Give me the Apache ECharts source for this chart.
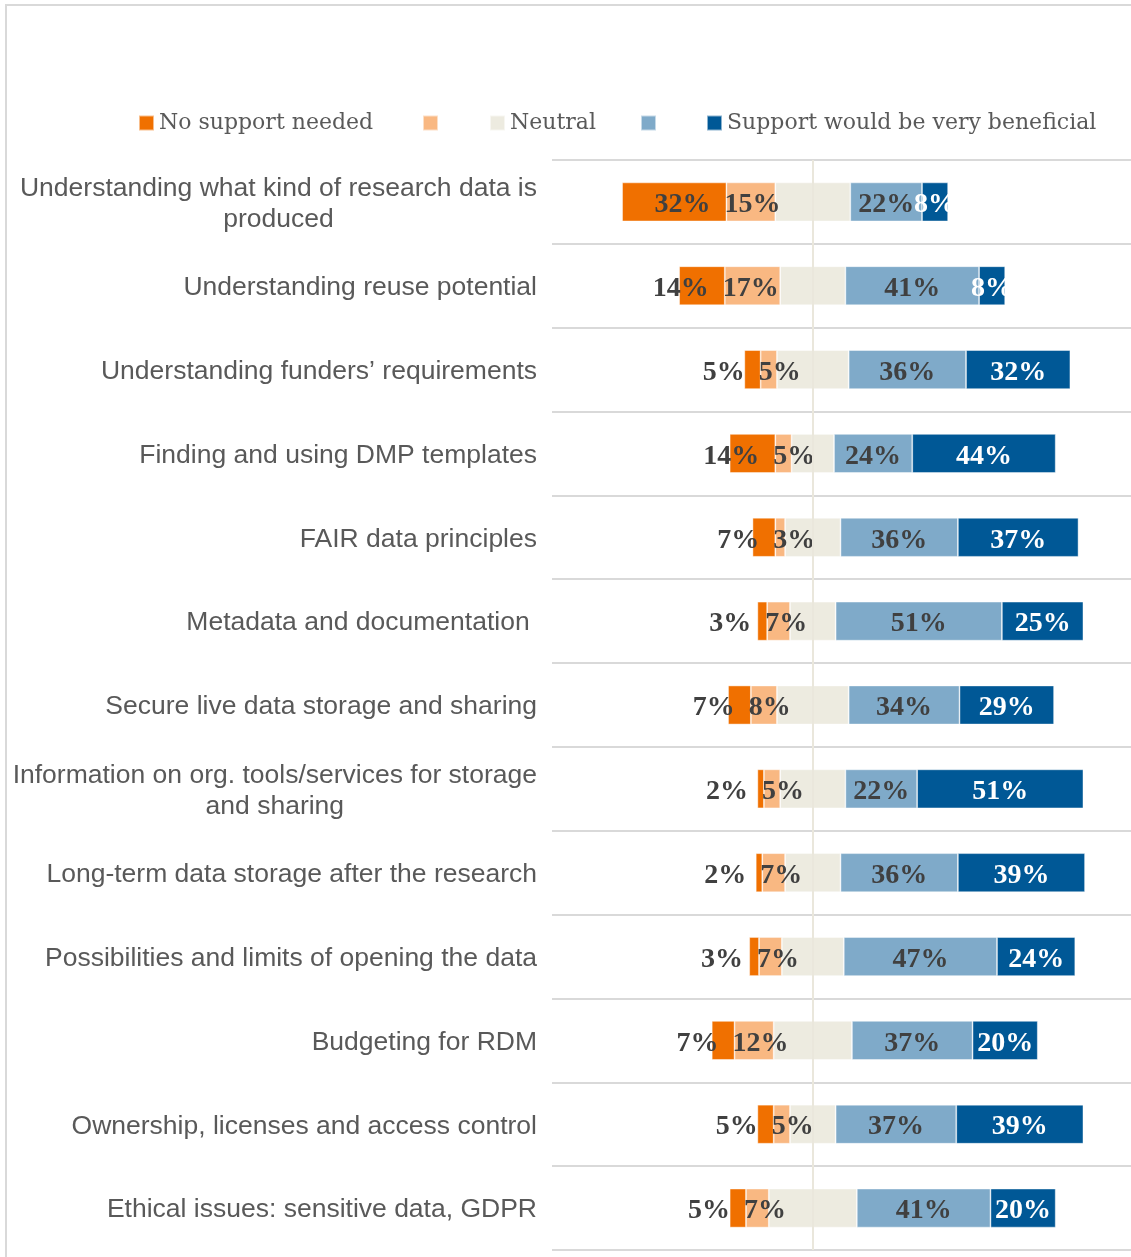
<!DOCTYPE html>
<html>
<head>
<meta charset="utf-8">
<script src="https://cdn.jsdelivr.net/npm/echarts@6/dist/echarts.min.js"></script>
<style>
  html, body { margin: 0; padding: 0; background: #ffffff; }
  #chart { width: 1131px; height: 1257px; }
</style>
</head>
<body>
<div id="chart"></div>
<script>
// Topics asked about in the survey (top to bottom)
const categories = [
  'Understanding what kind of research data is\nproduced',
  'Understanding reuse potential',
  'Understanding funders\u2019 requirements',
  'Finding and using DMP templates',
  'FAIR data principles',
  'Metadata and documentation ',
  'Secure live data storage and sharing',
  'Information on org. tools/services for storage\nand sharing',
  'Long-term data storage after the research',
  'Possibilities and limits of opening the data',
  'Budgeting for RDM',
  'Ownership, licenses and access control',
  'Ethical issues: sensitive data, GDPR'
];

// Share of answers (%) on the five-point scale
const noSupport      = [32, 14, 5, 14, 7, 3, 7, 2, 2, 3, 7, 5, 5];
const littleSupport  = [15, 17, 5, 5, 3, 7, 8, 5, 7, 7, 12, 5, 7];
const neutral        = [23, 20, 22, 13, 17, 14, 22, 20, 17, 19, 24, 14, 27];
const someSupport    = [22, 41, 36, 24, 36, 51, 34, 22, 36, 47, 37, 37, 41];
const veryBeneficial = [8, 8, 32, 44, 37, 25, 29, 51, 39, 24, 20, 39, 20];

// Legend entries (the two intermediate answers carry no caption)
const legendNames = ['No support needed', ' ', 'Neutral', '  ', 'Support would be very beneficial'];
const legendLeft = [138, 422, 489, 640, 706];

const COLORS = {
  no: '#F07000',
  little: '#F9B882',
  neutral: '#EDEBE0',
  some: '#7FAAC9',
  very: '#005896'
};

const labelFont = {
  fontFamily: 'Liberation Serif',
  fontWeight: 'bold',
  fontSize: 28,
  offset: [0, 3]
};
const pct = p => Math.abs(p.value) + '%';

const barBase = {
  type: 'bar',
  stack: 'likert',
  barWidth: 39,
  emphasis: { disabled: true },
  itemStyle: { borderColor: 'rgba(255,255,255,0.55)', borderWidth: 0.8 }
};

const chart = echarts.init(document.getElementById('chart'), null, { renderer: 'canvas' });

chart.setOption({
  animation: false,
  backgroundColor: '#ffffff',
  graphic: [{
    type: 'rect',
    silent: true,
    shape: { x: 6, y: 5, width: 1300, height: 1400 },
    style: { fill: 'none', stroke: '#d9d9d9', lineWidth: 2 }
  }],
  // one legend block per entry so each swatch sits at its own place
  legend: legendNames.map((name, i) => ({
    data: [name],
    left: legendLeft[i],
    top: 112,
    padding: 0,
    itemWidth: 15,
    itemHeight: 15,
    icon: 'rect',
    selectedMode: false,
    textStyle: { fontFamily: 'DejaVu Serif', fontSize: 22, color: '#595959' }
  })),
  grid: { left: 552, top: 160, right: 0, height: 1090 },
  xAxis: {
    type: 'value',
    min: -80,
    max: 97.6,
    show: false
  },
  yAxis: {
    type: 'category',
    data: categories,
    inverse: true,
    axisLine: { show: false },
    axisTick: { show: false },
    splitLine: { show: true, lineStyle: { color: '#d9d9d9', width: 2 } },
    axisLabel: {
      margin: 15,
      color: '#595959',
      fontFamily: 'Liberation Sans',
      fontSize: 26.5,
      lineHeight: 31,
      padding: [4, 0, 0, 0],
      formatter: v => v.indexOf('\n') >= 0
        ? v.split('\n').map(l => '{c|' + l + '}').join('\n')
        : v,
      rich: {
        c: { align: 'center', color: '#595959', fontFamily: 'Liberation Sans', fontSize: 26.5, lineHeight: 31 }
      }
    }
  },
  series: [
    Object.assign({}, barBase, {
      name: 'Neutral',
      data: neutral.map(v => -v / 2),
      itemStyle: Object.assign({}, barBase.itemStyle, { color: COLORS.neutral }),
      markLine: {
        silent: true,
        symbol: ['none', 'none'],
        label: { show: false },
        lineStyle: { color: '#EAE7DC', width: 2, type: 'solid' },
        data: [{ xAxis: 0 }]
      }
    }),
    Object.assign({}, barBase, {
      name: 'Neutral',
      data: neutral.map(v => v / 2),
      itemStyle: Object.assign({}, barBase.itemStyle, { color: COLORS.neutral })
    }),
    Object.assign({}, barBase, {
      name: ' ',
      data: littleSupport.map(v => -v),
      itemStyle: Object.assign({}, barBase.itemStyle, { color: COLORS.little }),
      label: Object.assign({ show: true, position: 'insideLeft', distance: -2, color: '#404040', formatter: pct }, labelFont)
    }),
    Object.assign({}, barBase, {
      name: '  ',
      data: someSupport,
      itemStyle: Object.assign({}, barBase.itemStyle, { color: COLORS.some }),
      label: Object.assign({ show: true, position: 'inside', color: '#404040', formatter: pct }, labelFont)
    }),
    Object.assign({}, barBase, {
      name: 'No support needed',
      data: noSupport.map(v => -v),
      itemStyle: Object.assign({}, barBase.itemStyle, { color: COLORS.no }),
      label: Object.assign({ show: true, position: 'insideRight', distance: 16, color: '#404040', formatter: pct }, labelFont)
    }),
    Object.assign({}, barBase, {
      name: 'Support would be very beneficial',
      data: veryBeneficial,
      itemStyle: Object.assign({}, barBase.itemStyle, { color: COLORS.very }),
      label: Object.assign({ show: true, position: 'inside', color: '#ffffff', formatter: pct }, labelFont)
    })
  ]
});
</script>
</body>
</html>
